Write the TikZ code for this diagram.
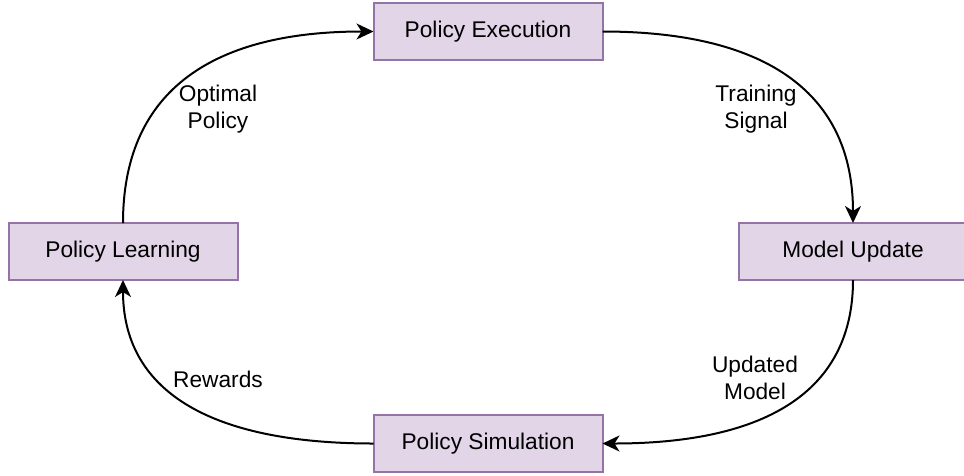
\documentclass[tikz,border=0pt]{standalone}
\usepackage{fontspec}
\setmainfont{Liberation Sans}
\usetikzlibrary{arrows.meta,calc}

\definecolor{boxfill}{HTML}{E1D5E7}
\definecolor{boxline}{HTML}{9673A6}

\tikzset{
  stagebox/.style={draw=boxline, fill=boxfill, line width=2pt, rectangle,
    minimum width=229pt, minimum height=57pt, inner sep=0pt, outer sep=0pt,
    font=\fontsize{22.7}{27}\selectfont},
  flowlabel/.style={align=center, inner sep=0pt, font=\fontsize{22.7}{27}\selectfont},
  flow/.style={line width=2pt, -{Stealth[length=17pt, width=16pt, inset=5pt]}}
}

\begin{document}
\begin{tikzpicture}[x=1pt, y=-1pt]
  \useasboundingbox (0,0) rectangle (964,475);

  % stages of the loop
  \node[stagebox] (E) at (488,31.5)  {Policy Execution};
  \node[stagebox] (M) at (853,251.5) {Model Update};
  \node[stagebox] (L) at (123,251.5) {Policy Learning};
  \node[stagebox] (S) at (488,443.5) {Policy Simulation};

  % corners that shape the curved connectors
  \coordinate (c1) at (L.north |- E.west);
  \coordinate (c2) at (M.north |- E.east);
  \coordinate (c3) at (M.south |- S.east);
  \coordinate (c4) at (L.south |- S.west);

  \draw[flow] (L.north) .. controls ($(L.north)!2/3!(c1)$) and ($(E.west)!2/3!(c1)$) .. (E.west);
  \draw[flow] (E.east) .. controls ($(E.east)!2/3!(c2)$) and ($(M.north)!2/3!(c2)$) .. (M.north);
  \draw[flow] (M.south) .. controls ($(M.south)!2/3!(c3)$) and ($(S.east)!2/3!(c3)$) .. (S.east);
  \draw[flow] (S.west) .. controls ($(S.west)!2/3!(c4)$) and ($(L.south)!2/3!(c4)$) .. (L.south);

  % connector labels
  \node[flowlabel] (lo) at (218,109) {Optimal\\Policy};
  \node[flowlabel] (lt) at (756,109) {Training\\Signal};
  \node[flowlabel] (lu) at (755,378) {Updated\\Model};
  \node[flowlabel] (lr) at (218,379) {Rewards};
\end{tikzpicture}
\end{document}
